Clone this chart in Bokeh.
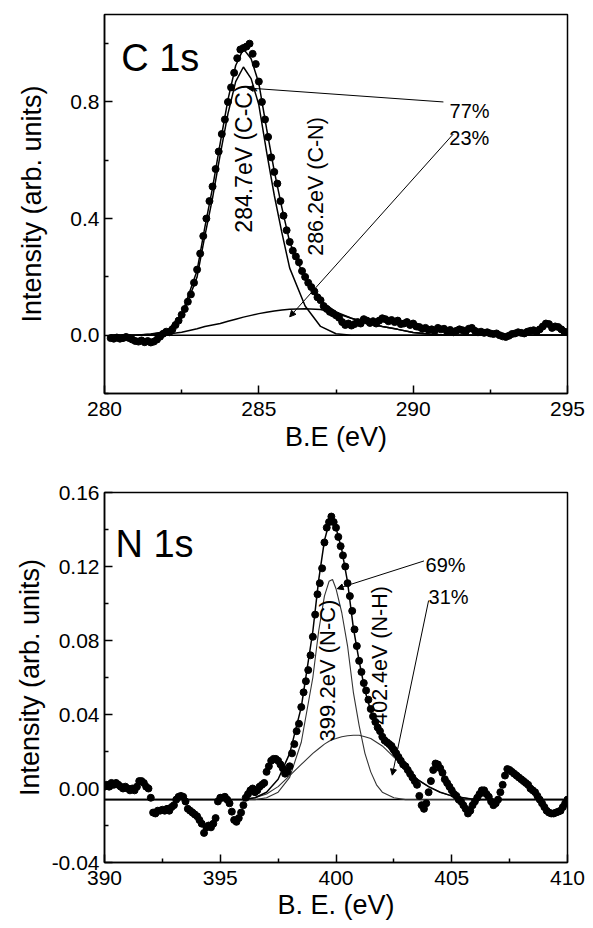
from bokeh.plotting import figure
from bokeh.layouts import column
from bokeh.models import FixedTicker, Label, Arrow, NormalHead, PrintfTickFormatter
from bokeh.embed import file_html
from bokeh.resources import INLINE

# ---------------- C 1s data ----------------
c1s_energy = [
    280.2, 280.3, 280.4, 280.5, 280.6, 280.7, 280.8, 280.9, 281.0, 281.1,
    281.2, 281.3, 281.4, 281.5, 281.6, 281.7, 281.8, 281.9, 282.0, 282.1,
    282.2, 282.3, 282.4, 282.5, 282.6, 282.7, 282.8, 282.9, 283.0, 283.1,
    283.2, 283.3, 283.4, 283.5, 283.6, 283.7, 283.8, 283.9, 284.0, 284.1,
    284.2, 284.3, 284.4, 284.5, 284.6, 284.7, 284.8, 284.9, 285.0, 285.1,
    285.2, 285.3, 285.4, 285.5, 285.6, 285.7, 285.8, 285.9, 286.0, 286.1,
    286.2, 286.3, 286.4, 286.5, 286.6, 286.7, 286.8, 286.9, 287.0, 287.1,
    287.2, 287.3, 287.4, 287.5, 287.6, 287.7, 287.8, 287.9, 288.0, 288.1,
    288.2, 288.3, 288.4, 288.5, 288.6, 288.7, 288.8, 288.9, 289.0, 289.1,
    289.2, 289.3, 289.4, 289.5, 289.6, 289.7, 289.8, 289.9, 290.0, 290.1,
    290.2, 290.3, 290.4, 290.5, 290.6, 290.7, 290.8, 290.9, 291.0, 291.1,
    291.2, 291.3, 291.4, 291.5, 291.6, 291.7, 291.8, 291.9, 292.0, 292.1,
    292.2, 292.3, 292.4, 292.5, 292.6, 292.7, 292.8, 292.9, 293.0, 293.1,
    293.2, 293.3, 293.4, 293.5, 293.6, 293.7, 293.8, 293.9, 294.0, 294.1,
    294.2, 294.3, 294.4, 294.5, 294.6, 294.7, 294.8, 294.9, 295.0,
]
c1s_intensity = [
    -0.01, -0.012, -0.008, -0.012, -0.01, -0.006, -0.01, -0.015, -0.02, -0.022,
    -0.018, -0.024, -0.02, -0.025, -0.022, -0.015, -0.005, 0.005, 0.012, 0.01,
    0.02, 0.035, 0.05, 0.07, 0.09, 0.115, 0.14, 0.18, 0.225, 0.28,
    0.34, 0.40, 0.46, 0.51, 0.57, 0.63, 0.69, 0.74, 0.80, 0.85,
    0.90, 0.95, 0.98, 0.985, 0.99, 1.00, 0.965, 0.93, 0.87, 0.80,
    0.74, 0.68, 0.61, 0.56, 0.52, 0.46, 0.41, 0.36, 0.32, 0.29,
    0.27, 0.25, 0.22, 0.20, 0.18, 0.165, 0.15, 0.13, 0.12, 0.10,
    0.09, 0.08, 0.075, 0.068, 0.06, 0.045, 0.035, 0.04, 0.033, 0.038,
    0.045, 0.04, 0.055, 0.05, 0.042, 0.048, 0.04, 0.05, 0.058, 0.055,
    0.048, 0.052, 0.045, 0.05, 0.038, 0.04, 0.045, 0.035, 0.04, 0.03,
    0.028, 0.022, 0.025, 0.018, 0.02, 0.015, 0.025, 0.02, 0.022, 0.012,
    0.018, 0.01, 0.015, 0.02, 0.017, 0.012, 0.022, 0.025, 0.015, 0.01,
    0.012, 0.008, 0.01, 0.006, 0.004, 0.006, 0.0, -0.004, -0.006, -0.002,
    0.004, 0.006, 0.01, 0.008, 0.006, 0.012, 0.015, 0.017, 0.012, 0.02,
    0.03, 0.04, 0.038, 0.025, 0.03, 0.028, 0.02, 0.012, 0.01,
]
c1s_fit_energy = [280.2, 281.0, 281.5, 282.0, 282.5, 283.0, 283.25, 283.5, 283.75, 284.0,
                  284.25, 284.5, 284.75, 285.0, 285.25, 285.5, 285.75, 286.0, 286.5, 287.0,
                  287.5, 288.0, 288.5, 289.0, 289.5, 290.0, 290.5, 291.0, 292.0, 295.0]
c1s_cc = [0.0, 0.0, 0.003, 0.01, 0.06, 0.20, 0.34, 0.47, 0.62, 0.76,
          0.87, 0.92, 0.88, 0.79, 0.63, 0.48, 0.35, 0.23, 0.10, 0.03,
          0.005, 0.0, 0.0, 0.0, 0.0, 0.0, 0.0, 0.0, 0.0, 0.0]
c1s_cn = [0.0, 0.0, 0.001, 0.003, 0.01, 0.022, 0.03, 0.035, 0.04, 0.048,
          0.055, 0.062, 0.068, 0.074, 0.079, 0.083, 0.086, 0.089, 0.091, 0.088,
          0.075, 0.058, 0.042, 0.03, 0.02, 0.009, 0.004, 0.001, 0.0, 0.0]
c1s_baseline = 0.0

# ---------------- N 1s data ----------------
n1s_energy = [
    390.0, 390.1, 390.2, 390.3, 390.4, 390.5, 390.6, 390.7, 390.8, 390.9,
    391.0, 391.1, 391.2, 391.3, 391.4, 391.5, 391.6, 391.7, 391.8, 391.9,
    392.0, 392.1, 392.2, 392.3, 392.4, 392.5, 392.6, 392.7, 392.8, 392.9,
    393.0, 393.1, 393.2, 393.3, 393.4, 393.5, 393.6, 393.7, 393.8, 393.9,
    394.0, 394.1, 394.2, 394.3, 394.4, 394.5, 394.6, 394.7, 394.8, 394.9,
    395.0, 395.1, 395.2, 395.3, 395.4, 395.5, 395.6, 395.7, 395.8, 395.9,
    396.0, 396.1, 396.2, 396.3, 396.4, 396.5, 396.6, 396.7, 396.8, 396.9,
    397.0, 397.1, 397.2, 397.3, 397.4, 397.5, 397.6, 397.7, 397.8, 397.9,
    398.0, 398.1, 398.2, 398.3, 398.4, 398.5, 398.6, 398.7, 398.8, 398.9,
    399.0, 399.1, 399.2, 399.3, 399.4, 399.5, 399.6, 399.7, 399.8, 399.9,
    400.0, 400.1, 400.2, 400.3, 400.4, 400.5, 400.6, 400.7, 400.8, 400.9,
    401.0, 401.1, 401.2, 401.3, 401.4, 401.5, 401.6, 401.7, 401.8, 401.9,
    402.0, 402.1, 402.2, 402.3, 402.4, 402.5, 402.6, 402.7, 402.8, 402.9,
    403.0, 403.1, 403.2, 403.3, 403.4, 403.5, 403.6, 403.7, 403.8, 403.9,
    404.0, 404.1, 404.2, 404.3, 404.4, 404.5, 404.6, 404.7, 404.8, 404.9,
    405.0, 405.1, 405.2, 405.3, 405.4, 405.5, 405.6, 405.7, 405.8, 405.9,
    406.0, 406.1, 406.2, 406.3, 406.4, 406.5, 406.6, 406.7, 406.8, 406.9,
    407.0, 407.1, 407.2, 407.3, 407.4, 407.5, 407.6, 407.7, 407.8, 407.9,
    408.0, 408.1, 408.2, 408.3, 408.4, 408.5, 408.6, 408.7, 408.8, 408.9,
    409.0, 409.1, 409.2, 409.3, 409.4, 409.5, 409.6, 409.7, 409.8, 409.9,
    410.0,
]
n1s_intensity = [
    0.001, 0.002, 0.001, 0.003, 0.002, 0.003, 0.002, 0.001, 0.0, 0.001,
    0.0, -0.001, 0.0, -0.001, 0.001, 0.004, 0.004, 0.003, 0.001, 0.0,
    -0.005, -0.013, -0.0135, -0.012, -0.012, -0.0115, -0.012, -0.011, -0.012, -0.01,
    -0.009, -0.006, -0.0045, -0.004, -0.0045, -0.007, -0.011, -0.012, -0.013, -0.014,
    -0.015, -0.017, -0.019, -0.024, -0.021, -0.02, -0.021, -0.019, -0.016, -0.007,
    -0.005, -0.005, -0.0045, -0.006, -0.008, -0.0125, -0.017, -0.018, -0.016, -0.013,
    -0.009, -0.005, -0.003, -0.001, 0.0, -0.002, -0.001, 0.001, 0.002, 0.003,
    0.009, 0.012, 0.015, 0.016, 0.016, 0.015, 0.013, 0.011, 0.008, 0.009,
    0.012, 0.019, 0.024, 0.031, 0.035, 0.044, 0.052, 0.058, 0.064, 0.072,
    0.082, 0.094, 0.105, 0.111, 0.119, 0.133, 0.141, 0.144, 0.147, 0.144,
    0.141, 0.136, 0.131, 0.126, 0.12, 0.111, 0.104, 0.096, 0.086, 0.077,
    0.069, 0.063, 0.057, 0.053, 0.048, 0.043, 0.039, 0.036, 0.033, 0.031,
    0.028, 0.026, 0.025, 0.024, 0.023, 0.021, 0.019, 0.017, 0.015, 0.013,
    0.012, 0.01, 0.008, 0.006, 0.004, 0.002, -0.004, -0.009, -0.011, -0.008,
    -0.002, 0.004, 0.01, 0.0135, 0.013, 0.011, 0.0085, 0.005, 0.003, 0.001,
    -0.001, -0.003, -0.004, -0.006, -0.007, -0.009, -0.011, -0.0135, -0.012, -0.009,
    -0.007, -0.005, -0.003, -0.001, -0.001, -0.003, -0.0045, -0.007, -0.009, -0.008,
    -0.006, -0.002, 0.002, 0.007, 0.0105, 0.01, 0.009, 0.008, 0.007, 0.006,
    0.005, 0.004, 0.003, 0.002, 0.0, -0.001, -0.002, -0.004, -0.006, -0.008,
    -0.01, -0.012, -0.013, -0.0135, -0.0135, -0.013, -0.0125, -0.012, -0.01, -0.008,
    -0.006,
]
n1s_fit_energy = [390.0, 396.0, 396.5, 397.0, 397.5, 398.0, 398.5, 399.0, 399.25, 399.5,
                  399.7, 399.85, 400.0, 400.25, 400.5, 400.75, 401.0, 401.25, 401.5, 401.75,
                  402.0, 402.5, 403.0, 403.5, 404.0, 404.5, 405.0, 405.5, 406.0, 410.0]
n1s_nc = [-0.006, -0.006, -0.006, -0.005, -0.002, 0.006, 0.025, 0.06, 0.085, 0.104,
          0.112, 0.113, 0.108, 0.095, 0.077, 0.052, 0.034, 0.019, 0.009, 0.002,
          -0.002, -0.005, -0.006, -0.006, -0.006, -0.006, -0.006, -0.006, -0.006, -0.006]
n1s_nh = [-0.006, -0.006, -0.005, -0.003, 0.001, 0.007, 0.013, 0.019, 0.0215, 0.024,
          0.0255, 0.0265, 0.027, 0.028, 0.0285, 0.0288, 0.0288, 0.028, 0.027, 0.025,
          0.023, 0.017, 0.011, 0.005, 0.001, -0.002, -0.004, -0.005, -0.006, -0.006]
n1s_baseline = -0.006

FONT = "Liberation Sans"


def style(p, xticks, xminor, yticks, yminor, yfmt, label_standoff_y, xlabel_standoff, xstand):
    p.xgrid.visible = False
    p.ygrid.visible = False
    p.outline_line_color = "black"
    p.outline_line_width = 1.5
    p.outline_line_alpha = 1.0
    p.xaxis.ticker = FixedTicker(ticks=xticks, minor_ticks=xminor)
    p.yaxis.ticker = FixedTicker(ticks=yticks, minor_ticks=yminor)
    p.xaxis.formatter = PrintfTickFormatter(format="%d")
    p.yaxis.formatter = PrintfTickFormatter(format=yfmt)
    for ax in (p.xaxis[0], p.yaxis[0]):
        ax.axis_line_color = "black"
        ax.axis_line_width = 1.5
        ax.major_tick_in = 8
        ax.major_tick_out = 0
        ax.minor_tick_in = 4
        ax.minor_tick_out = 0
        ax.major_tick_line_color = "black"
        ax.minor_tick_line_color = "black"
        ax.major_tick_line_width = 1.5
        ax.minor_tick_line_width = 1.5
        ax.major_label_text_font = FONT
        ax.major_label_text_font_size = "21px"
        ax.major_label_text_color = "black"
        ax.axis_label_text_font = FONT
        ax.axis_label_text_font_size = "27px"
        ax.axis_label_text_font_style = "normal"
        ax.axis_label_text_color = "black"
    p.yaxis.major_label_standoff = 5
    p.yaxis.axis_label_standoff = label_standoff_y
    p.xaxis.major_label_standoff = xstand
    p.xaxis.axis_label_standoff = xlabel_standoff


def label(p, x, y, text, size, angle=0, align="left", baseline="alphabetic"):
    p.add_layout(Label(x=x, y=y, text=text, text_font=FONT, text_font_size=f"{size}px",
                       angle=angle, angle_units="deg", text_align=align,
                       text_baseline=baseline, text_color="black"))


def arrow(p, x0, y0, x1, y1):
    p.add_layout(Arrow(end=NormalHead(size=6, fill_color="black", line_color="black", line_width=1),
                       x_start=x0, y_start=y0, x_end=x1, y_end=y1,
                       line_color="black", line_width=1))


# ---------------- top panel ----------------
p1 = figure(width=593, height=464, x_range=(280, 295), y_range=(-0.2, 1.1),
            output_backend="svg", toolbar_location=None,
            min_border_left=101, min_border_right=20, min_border_top=14, min_border_bottom=71,
            x_axis_label="B.E (eV)", y_axis_label="Intensity (arb. units)")
style(p1, [280, 285, 290, 295], [282.5, 287.5, 292.5], [0.0, 0.4, 0.8], [-0.2, 0.2, 0.6, 1.0],
      "%.1f", 20, 3, 8)

c1s_env = [a + b + c1s_baseline for a, b in zip(c1s_cc, c1s_cn)]
p1.line([280.2, 295.0], [c1s_baseline, c1s_baseline], line_color="black", line_width=1.5)
p1.line(c1s_fit_energy, c1s_cc, line_color="black", line_width=1.5)
p1.line(c1s_fit_energy, c1s_cn, line_color="black", line_width=1.5)
p1.scatter(c1s_energy, c1s_intensity, size=7, fill_color="black", line_color="black")
p1.line(c1s_fit_energy, c1s_env, line_color="black", line_width=1.5)

label(p1, 280.54, 0.952, "C 1s", 38)
label(p1, 284.52, 0.606, "284.7eV (C-C)", 23, angle=90, align="center", baseline="middle")
label(p1, 286.85, 0.51, "286.2eV (C-N)", 21.5, angle=90, align="center", baseline="middle")
label(p1, 291.18, 0.77, "77%", 20)
label(p1, 291.17, 0.675, "23%", 20)
arrow(p1, 290.98, 0.80, 284.63, 0.848)
arrow(p1, 291.3, 0.69, 286.0, 0.063)

# ---------------- bottom panel ----------------
p2 = figure(width=593, height=464, x_range=(390, 410), y_range=(-0.04, 0.16),
            output_backend="svg", toolbar_location=None,
            min_border_left=104, min_border_right=26, min_border_top=28, min_border_bottom=66,
            x_axis_label="B. E. (eV)", y_axis_label="Intensity (arb. units)")
style(p2, [390, 395, 400, 405, 410], [392.5, 397.5, 402.5, 407.5],
      [-0.04, 0.0, 0.04, 0.08, 0.12, 0.16], [-0.02, 0.02, 0.06, 0.10, 0.14],
      "%.2f", 4, 2, 8)

n1s_env = [a + b - n1s_baseline for a, b in zip(n1s_nc, n1s_nh)]
p2.line([390.0, 410.0], [n1s_baseline, n1s_baseline], line_color="black", line_width=1.5)
p2.line(n1s_fit_energy, n1s_nc, line_color="#333333", line_width=1.1)
p2.line(n1s_fit_energy, n1s_nh, line_color="#333333", line_width=1.1)
p2.scatter(n1s_energy, n1s_intensity, size=7, fill_color="black", line_color="black")
p2.line(n1s_fit_energy, n1s_env, line_color="black", line_width=1.5)

label(p2, 390.47, 0.1324, "N 1s", 38)
label(p2, 399.65, 0.0638, "399.2eV (N-C)", 22, angle=90, align="center", baseline="middle")
label(p2, 401.9, 0.0719, "402.4eV (N-H)", 21.5, angle=90, align="center", baseline="middle")
label(p2, 403.87, 0.1207, "69%", 20)
label(p2, 404.0, 0.1036, "31%", 20)
arrow(p2, 403.8, 0.123, 400.05, 0.108)
arrow(p2, 404.0, 0.1016, 402.43, 0.0072)

layout = column(p1, p2, spacing=0)
open("out.html", "w").write(file_html(layout, INLINE))
